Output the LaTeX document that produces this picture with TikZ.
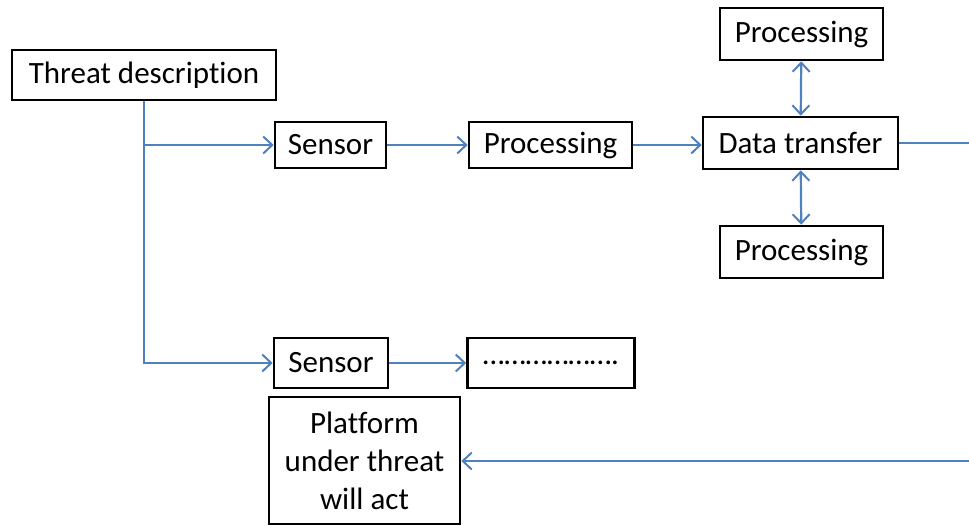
\documentclass[tikz,border=0pt]{standalone}
\usepackage{fontspec}
\setmainfont{Carlito}[Ligatures=NoCommon]
\usetikzlibrary{arrows.meta}
\definecolor{lineblue}{RGB}{79,129,189}

\begin{document}
\begin{tikzpicture}[x=1pt,y=-1pt,
  box/.style={draw=black,line width=2.6pt,inner sep=0pt,align=center,
    font=\fontsize{31}{38}\selectfont},
  link/.style={draw=lineblue,line width=2.2pt,
    -{Straight Barb[length=9pt,width=17pt,line width=2pt]}},
  twoway/.style={link,{Straight Barb[length=9pt,width=17pt,line width=2pt]}-{Straight Barb[length=9pt,width=17pt,line width=2pt]}}]
\useasboundingbox (0,0) rectangle (969,525);

\node[box,minimum width=264,minimum height=50] (threat) at (144,75) {Threat description};
\node[box,minimum width=111,minimum height=46] (sensA) at (330.5,145) {Sensor};
\node[box,minimum width=163,minimum height=46] (procA) at (550.5,145) {Processing};
\node[box,minimum width=195,minimum height=52] (xfer) at (800.5,143) {Data transfer};
\node[box,minimum width=163,minimum height=52] (procT) at (801.5,34) {Processing};
\node[box,minimum width=163,minimum height=52] (procB) at (801.5,252) {Processing};
\node[box,minimum width=114,minimum height=50] (sensB) at (331,363) {Sensor};
\node[box,minimum width=167,minimum height=50] (dots) at (551,363) {……………….};
\node[box,minimum width=191,minimum height=127] (platform) at (364.5,460.5) {Platform\\under threat\\will act};

\coordinate (outR) at (969,143); % feedback leaves the page here
\coordinate (inR) at (969,461);

\draw[link] (threat.south) |- (sensA.west);
\draw[link] (threat.south) |- (sensB.west);
\draw[link] (sensA) -- (procA);
\draw[link] (procA.east) -- (xfer.west |- procA.east);
\draw[link] (sensB) -- (dots);
\draw[twoway] (procT) -- (xfer);
\draw[twoway] (procB) -- (xfer);
\draw[link,-] (xfer.east) -- (outR);
\draw[link] (inR) -- (platform.east |- inR);
\end{tikzpicture}
\end{document}
